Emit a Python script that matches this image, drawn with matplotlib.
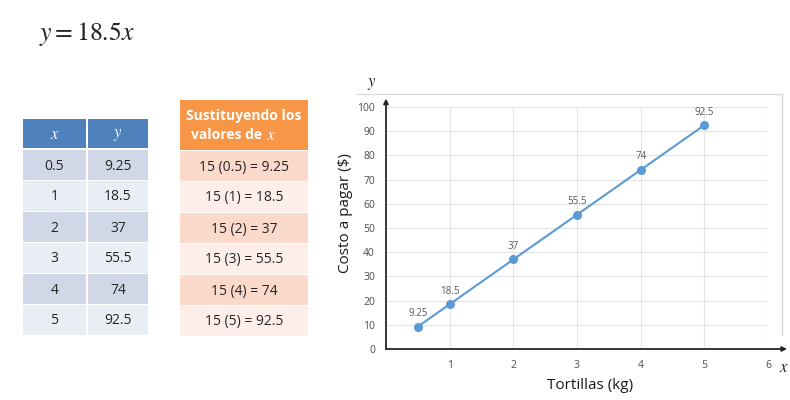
import matplotlib
matplotlib.use("Agg")
import matplotlib.pyplot as plt
from matplotlib.patches import Rectangle

# ---- data ----
x_vals = [0.5, 1, 2, 3, 4, 5]
y_vals = [9.25, 18.5, 37, 55.5, 74, 92.5]
x_labels = ["0.5", "1", "2", "3", "4", "5"]
y_labels = ["9.25", "18.5", "37", "55.5", "74", "92.5"]
subst_labels = ["15 (0.5) = 9.25", "15 (1) = 18.5", "15 (2) = 37",
                "15 (3) = 55.5", "15 (4) = 74", "15 (5) = 92.5"]
x_ticks = [1, 2, 3, 4, 5, 6]
y_ticks = [0, 10, 20, 30, 40, 50, 60, 70, 80, 90, 100]

plt.rcParams['mathtext.fontset'] = 'stix'
FONT = 'Open Sans'

W, H = 790, 400
fig = plt.figure(figsize=(7.9, 4.0), dpi=100)
fig.patch.set_facecolor('white')

# overlay axes in pixel coords
ov = fig.add_axes([0, 0, 1, 1])
ov.set_xlim(0, W)
ov.set_ylim(H, 0)
ov.axis('off')

# equation
ov.text(39, 34, r"$y = 18.5x$", fontsize=18.5, va='center', ha='left', color='#222222')

# ---- left table ----
row_tops = [150, 181, 212, 243, 274, 305]
row_h = 30
col_l = [(23, 86), (88, 148)]
ov.add_patch(Rectangle((23, 119), 125, 29, facecolor='#4F81BD', edgecolor='none'))
ov.add_patch(Rectangle((86, 119), 2, 29, facecolor='white', edgecolor='none'))
ov.text(54.5, 134, r"$\mathbf{\mathit{x}}$", color='white', fontsize=12, ha='center', va='center')
ov.text(118, 134, r"$\mathbf{\mathit{y}}$", color='white', fontsize=12, ha='center', va='center')
for i, (xl, yl) in enumerate(zip(x_labels, y_labels)):
    c = '#D0D8E8' if i % 2 == 0 else '#E9EDF4'
    t = row_tops[i]
    for (a, b), lab in zip(col_l, [xl, yl]):
        ov.add_patch(Rectangle((a, t), b - a, row_h, facecolor=c, edgecolor='none'))
        ov.text((a + b) / 2, t + row_h / 2 + 1, lab, fontsize=10, family=FONT,
                ha='center', va='center', color='#262626')

# ---- right table ----
ov.add_patch(Rectangle((180, 100), 128, 50, facecolor='#F79646', edgecolor='none'))
ov.text(244, 116, "Sustituyendo los", color='white', fontsize=10, family=FONT,
        fontweight='bold', ha='center', va='center')
ov.text(262, 135, "valores de", color='white', fontsize=10, family=FONT,
        fontweight='bold', ha='right', va='center')
ov.text(266, 135, r"$\mathbf{\mathit{x}}$", color='white', fontsize=12.5,
        ha='left', va='center')
for i, lab in enumerate(subst_labels):
    c = '#FBD9CB' if i % 2 == 0 else '#FDEEE9'
    t = row_tops[i] + 1
    ov.add_patch(Rectangle((180, t), 128, row_h, facecolor=c, edgecolor='none'))
    ov.text(244, t + row_h / 2 + 1, lab, fontsize=10, family=FONT,
            ha='center', va='center', color='#262626')

# chart frame (top and right)
ov.plot([357, 782], [94, 94], color='#D9D9D9', lw=1)
ov.plot([782, 782], [94, 335], color='#D9D9D9', lw=1)

# ---- chart ----
x0, x1, y0, y1 = 386, 768, 349, 107
ax = fig.add_axes([x0 / W, (H - y0) / H, (x1 - x0) / W, (y0 - y1) / H])
ax.set_facecolor('none')
ax.set_xlim(0, 6)
ax.set_ylim(0, 100)
ax.set_xticks(x_ticks)
ax.set_yticks(y_ticks)
ax.grid(True, color='#E3E3E3', lw=0.8)
ax.set_axisbelow(True)
for s in ax.spines.values():
    s.set_visible(False)
ax.tick_params(length=0, labelsize=7.5, labelcolor='#4d4d4d')
ax.tick_params(axis='x', pad=8)
ax.tick_params(axis='y', pad=8)
for lab in ax.get_xticklabels() + ax.get_yticklabels():
    lab.set_family(FONT)

# axes arrows
ax.annotate('', xy=(6.3, 0), xytext=(0, 0), xycoords='data',
            arrowprops=dict(arrowstyle='-|>', color='#262626', lw=1.3,
                            mutation_scale=7, shrinkA=0, shrinkB=0),
            annotation_clip=False)
ax.annotate('', xy=(0, 103.5), xytext=(0, 0), xycoords='data',
            arrowprops=dict(arrowstyle='-|>', color='#262626', lw=1.3,
                            mutation_scale=7, shrinkA=0, shrinkB=0),
            annotation_clip=False)

ax.plot(x_vals, y_vals, color='#5B9BD5', lw=1.5, marker='o', ms=5.5,
        markerfacecolor='#5B9BD5', markeredgecolor='#5B9BD5', clip_on=False)
for xv, yv, lab in zip(x_vals, y_vals, y_labels):
    ax.annotate(lab, (xv, yv), xytext=(0, 5.5), textcoords='offset points',
                ha='center', va='bottom', fontsize=7, color='#595959', family=FONT)

ax.set_ylabel("Costo a pagar ($)", fontsize=11, family=FONT, color='#1a1a1a')
ax.yaxis.set_label_coords(-0.087, 0.56)
ax.set_xlabel("Tortillas (kg)", fontsize=11, family=FONT, color='#1a1a1a')
ax.xaxis.set_label_coords(0.534, -0.12)

ov.text(372, 83, r"$y$", fontsize=12, ha='center', va='center', color='#222222')
ov.text(784, 367, r"$x$", fontsize=12, ha='center', va='center', color='#222222')

fig.savefig("out.png", dpi=100, facecolor='white')
